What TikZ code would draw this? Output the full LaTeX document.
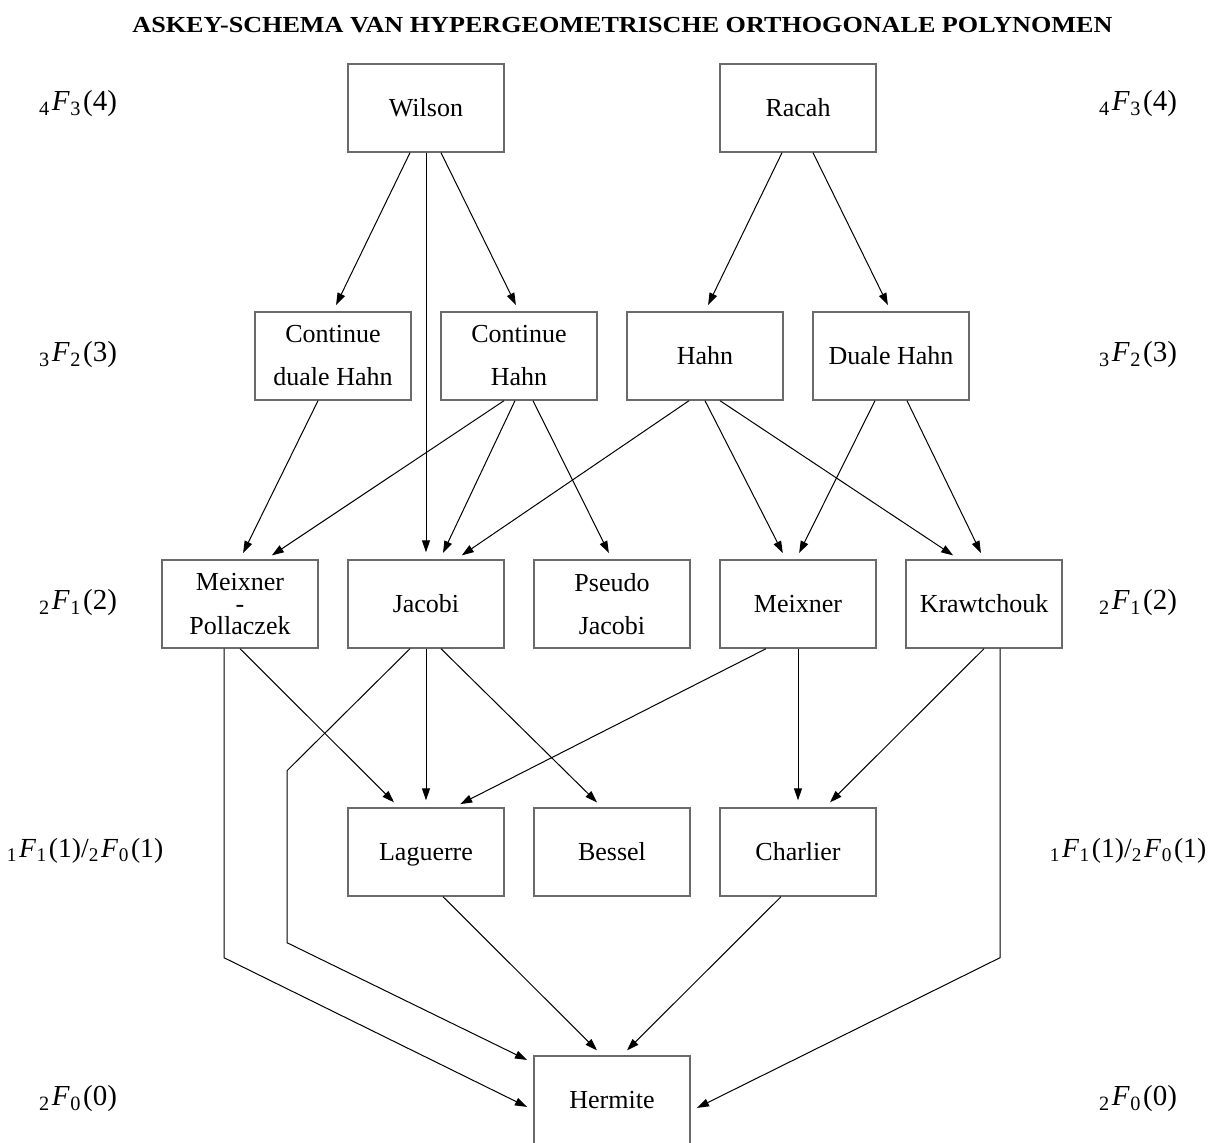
\documentclass[tikz,border=0pt]{standalone}
\usepackage{fontspec}
\setmainfont{Liberation Serif}
\usetikzlibrary{arrows.meta,calc}
\definecolor{boxgray}{HTML}{6A6A6A}
\newcommand\hgF[3]{\textsubscript{#1}\kern0.8pt\textit{F}\kern0.3pt\textsubscript{#2}\kern0.8pt(#3)}
\begin{document}
\begin{tikzpicture}[x=0.5pt,y=-0.5pt,
  box/.style={draw=boxgray,line width=0.7pt,minimum width=78pt,minimum height=44pt,
    inner sep=0pt,align=center,font=\fontsize{13}{21.5}\selectfont},
  conn/.style={line width=0.5pt,-{Triangle[length=6pt,width=4pt]},shorten >=3.5pt},
  lab/.style={font=\fontsize{14.5}{16}\selectfont,inner sep=0pt},
  lablong/.style={font=\fontsize{13.8}{16}\selectfont,inner sep=0pt}]
\useasboundingbox (0,0) rectangle (1226,1142);

\node[anchor=base west,inner sep=0pt] (title) at (132,32)
  {\resizebox{490pt}{7.6pt}{\bfseries ASKEY-SCHEMA VAN HYPERGEOMETRISCHE ORTHOGONALE POLYNOMEN}};

% boxes
\node[box] (wilson) at (426,108) {Wilson};
\node[box] (racah) at (798,108) {Racah};
\node[box] (cdh) at (333,356) {Continue\\duale Hahn};
\node[box] (ch) at (519,356) {Continue\\Hahn};
\node[box] (hahn) at (705,356) {Hahn};
\node[box] (dh) at (891,356) {Duale Hahn};
\node[box,font=\fontsize{13}{11}\selectfont] (mp) at (240,604) {Meixner\\-\\Pollaczek};
\node[box] (jacobi) at (426,604) {Jacobi};
\node[box] (pj) at (612,604) {Pseudo\\Jacobi};
\node[box] (meixner) at (798,604) {Meixner};
\node[box] (kraw) at (984,604) {Krawtchouk};
\node[box,text depth=0pt] (laguerre) at (426,852) {Laguerre};
\node[box] (bessel) at (612,852) {Bessel};
\node[box] (charlier) at (798,852) {Charlier};
\node[box] (hermite) at (612,1100) {Hermite};

% labels
\node[lab] (l1) at (78,104) {\hgF{4}{3}{4}};
\node[lab] (r1) at (1138,104) {\hgF{4}{3}{4}};
\node[lab] (l2) at (78,355) {\hgF{3}{2}{3}};
\node[lab] (r2) at (1138,355) {\hgF{3}{2}{3}};
\node[lab] (l3) at (78,603) {\hgF{2}{1}{2}};
\node[lab] (r3) at (1138,603) {\hgF{2}{1}{2}};
\node[lablong] (l4) at (85,851) {\hgF{1}{1}{1}/\hgF{2}{0}{1}};
\node[lablong] (r4) at (1128,851) {\hgF{1}{1}{1}/\hgF{2}{0}{1}};
\node[lab] (l5) at (78,1099) {\hgF{2}{0}{0}};
\node[lab] (r5) at (1138,1099) {\hgF{2}{0}{0}};

% row 1 -> row 2
\draw[conn] ($(wilson.south)+(-16,0)$) -- (cdh.north);
\draw[conn] (wilson.south) -- (jacobi.north);
\draw[conn] ($(wilson.south)+(15,0)$) -- (ch.north);
\draw[conn] ($(racah.south)+(-16,0)$) -- (hahn.north);
\draw[conn] ($(racah.south)+(15,0)$) -- (dh.north);

% row 2 -> row 3
\draw[conn] ($(cdh.south)+(-15,0)$) -- (mp.north);
\draw[conn] ($(ch.south)+(-15,0)$) -- ($(mp.north)+(26,0)$);
\draw[conn] ($(ch.south)+(-4,0)$) -- ($(jacobi.north)+(14,0)$);
\draw[conn] ($(ch.south)+(14,0)$) -- (pj.north);
\draw[conn] ($(hahn.south)+(-16,0)$) -- ($(jacobi.north)+(30,0)$);
\draw[conn] (hahn.south) -- ($(meixner.north)+(-12,0)$);
\draw[conn] ($(hahn.south)+(15,0)$) -- ($(kraw.north)+(-25,0)$);
\draw[conn] ($(dh.south)+(-16,0)$) -- ($(meixner.north)+(-2,0)$);
\draw[conn] ($(dh.south)+(16,0)$) -- (kraw.north);

% row 3 -> row 4 / hermite
\draw[conn] ($(mp.south)+(-16,0)$) -- ++(0,309) -- ($(hermite.west)+(0,10)$);
\draw[conn] ($(jacobi.south)+(-16,0)$) -- ++(-123,122) -- ++(0,172) -- ($(hermite.west)+(0,-37)$);
\draw[conn] ($(kraw.south)+(16,0)$) -- ++(0,309) -- ($(hermite.east)+(0,11)$);
\draw[conn] (mp.south) -- ($(laguerre.north)+(-27,0)$);
\draw[conn] (jacobi.south) -- (laguerre.north);
\draw[conn] ($(jacobi.south)+(15,0)$) -- ($(bessel.north)+(-10,0)$);
\draw[conn] ($(meixner.south)+(-32,0)$) -- ($(laguerre.north)+(28,0)$);
\draw[conn] (meixner.south) -- (charlier.north);
\draw[conn] (kraw.south) -- ($(charlier.north)+(27,0)$);

% row 4 -> hermite
\draw[conn] ($(laguerre.south)+(17,0)$) -- ($(hermite.north)+(-10,0)$);
\draw[conn] ($(charlier.south)+(-17,0)$) -- ($(hermite.north)+(10,0)$);
\end{tikzpicture}
\end{document}
